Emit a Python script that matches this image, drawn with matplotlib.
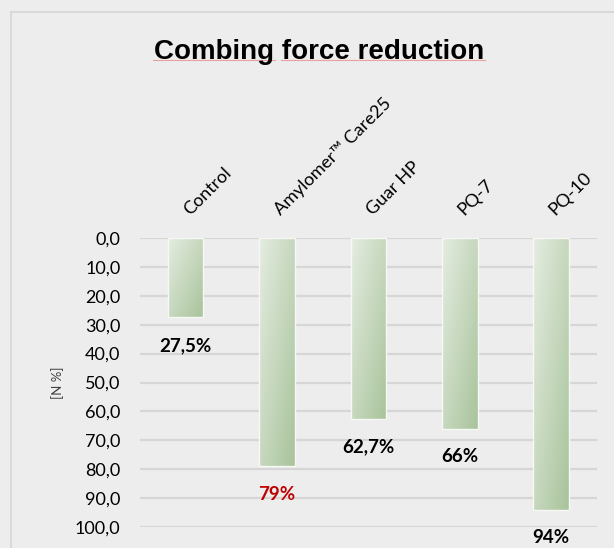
import numpy as np
import matplotlib.pyplot as plt
from matplotlib.colors import LinearSegmentedColormap
from matplotlib.lines import Line2D

# data
categories = ["Control", "Amylomer\u2122 Care25", "Guar HP", "PQ-7", "PQ-10"]
values = [27.5, 79, 62.7, 66, 94]
value_labels = ["27,5%", "79%", "62,7%", "66%", "94%"]
label_colors = ["black", "#C00000", "black", "black", "black"]
yticks = [0, 10, 20, 30, 40, 50, 60, 70, 80, 90, 100]

bg = "#EDEDED"
green = LinearSegmentedColormap.from_list("grn", ["#E4ECE0", "#A9C49C"])

fig = plt.figure(figsize=(6.14, 5.48), dpi=100, facecolor=bg)
ax = fig.add_axes([0.228, 0.0383, 0.744, 0.5274], facecolor=bg)

x = np.arange(len(categories))
bars = ax.bar(x, values, width=0.39, color="none", edgecolor="#F6F8F4",
              linewidth=1.0, zorder=3)

# gradient fill clipped to each bar
grad = np.add.outer(np.linspace(0, 1, 64), np.linspace(0, 1, 16)) / 2
for b in bars:
    x0, w, h = b.get_x(), b.get_width(), b.get_height()
    im = ax.imshow(grad, cmap=green, extent=[x0, x0 + w, h, 0],
                   aspect="auto", origin="upper", zorder=2,
                   interpolation="bilinear")
    im.set_clip_path(b)
    # small gap in gridlines around the bar
    ax.bar(b.get_x() + w / 2, h, width=w * 1.1, color=bg, zorder=1.5,
           linewidth=0)

ax.set_xlim(-0.5, len(categories) - 0.5)
ax.set_ylim(100, 0)
ax.set_yticks(yticks)
ax.set_yticklabels([f"{t:.1f}".replace(".", ",") for t in yticks],
                   fontsize=13, family="Lato")
ax.tick_params(axis="y", length=0, pad=14)
ax.set_xticks([])
ax.grid(axis="y", color="#D6D6D6", linewidth=1.6, zorder=1)
for s in ax.spines.values():
    s.set_visible(False)

ax.set_ylabel("[N %]", fontsize=9.5, color="#404040", labelpad=8,
              family="Lato")

for xi, v, lab, c in zip(x, values, value_labels, label_colors):
    ax.annotate(lab, (xi, v), xytext=(0, -20), textcoords="offset points",
                ha="center", va="center", fontsize=13.5, fontweight="bold",
                color=c, family="Lato", annotation_clip=False)

for xi, cat in zip(x, categories):
    ax.annotate(cat, (xi, 1), xycoords=("data", "axes fraction"),
                xytext=(3, 16), textcoords="offset points", rotation=45,
                rotation_mode="anchor", ha="left", va="baseline",
                fontsize=13, family="Lato", annotation_clip=False)

fig.text(0.5195, 1 - 59 / 548, "Combing force reduction", ha="center",
         va="baseline", fontsize=20, fontweight="bold",
         family="Liberation Sans")
# spell-check underline under the title
fig.add_artist(Line2D([153 / 614, 275 / 614], [1 - 60 / 548] * 2,
                      color="#E8A0A0", linewidth=0.8))
fig.add_artist(Line2D([281 / 614, 485 / 614], [1 - 60 / 548] * 2,
                      color="#E8A0A0", linewidth=0.8))

# chart frame
fig.add_artist(Line2D([11 / 614, 11 / 614], [0, 1 - 12 / 548],
                      color="#D6D6D6", linewidth=1.2))
fig.add_artist(Line2D([11 / 614, 1], [1 - 12 / 548] * 2,
                      color="#D6D6D6", linewidth=1.2))

fig.savefig("out.png", dpi=100, facecolor=bg)
